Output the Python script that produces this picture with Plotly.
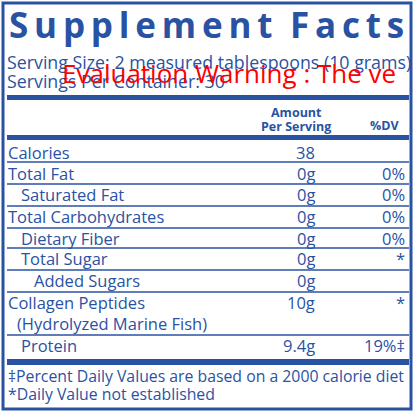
import plotly.graph_objects as go

BLUE = '#2a52a3'

# rows: label, amount, %DV, indent
labels = ['Calories', 'Total Fat', 'Saturated Fat', 'Total Carbohydrates', 'Dietary Fiber',
          'Total Sugar', 'Added Sugars', 'Collagen Peptides', '(Hydrolyzed Marine Fish)', 'Protein']
amounts = ['38', '0g', '0g', '0g', '0g', '0g', '0g', '10g', '', '9.4g']
dvs = ['', '0%', '0%', '0%', '0%', '*', '', '*', '', '19%‡']
indents = [6, 6, 19, 6, 19, 19, 32, 6, 15, 19]
row_y = [152, 173, 194, 216, 238, 258, 280, 302, 323, 345]
thin_lines = [162, 184, 206, 228, 248, 270, 292, 335]
footnotes = ['‡Percent Daily Values are based on a 2000 calorie diet', '*Daily Value not established']

FONT = 'Open Sans'
fig = go.Figure()
ann = []


def txt(x, y, s, size=16.5, anchor='left', bold=False, color=BLUE):
    ann.append(dict(x=x, y=y, text=f'<b>{s}</b>' if bold else s, showarrow=False,
                    xanchor=anchor, yanchor='middle',
                    font=dict(family=FONT, size=size, color=color)))


# title with spaced letters
title = 'Supplement Facts'
txt(206, 24, '\u2009'.join(title).replace(' \u2009', '\u2009\u2009'), size=35, anchor='center', bold=True)
txt(5, 62, 'Serving Size: 2 measured tablespoons (10 grams)', size=17.8)
txt(5, 81, 'Servings Per Container: 30', size=17.8)
txt(296, 112, 'Amount', size=12.5, anchor='center', bold=True)
txt(296, 126, 'Per Serving', size=12.5, anchor='center', bold=True)
txt(385, 125, '%DV', size=12.5, anchor='center', bold=True)

for lab, amt, dv, ind, y in zip(labels, amounts, dvs, indents, row_y):
    txt(ind, y, lab)
    if amt:
        txt(317, y, amt, anchor='right')
    if dv:
        txt(407, y, dv, anchor='right')

txt(6, 376, footnotes[0], size=15.8)
txt(6, 394, footnotes[1], size=15.8)

# evaluation watermark
txt(60, 73, 'Evaluation Warning : The ve', size=26, color='red')

shapes = [dict(type='rect', x0=3, y0=3, x1=411, y1=409, line=dict(color=BLUE, width=3))]
for y0, y1 in [(95, 100), (135, 140), (359, 365)]:
    shapes.append(dict(type='rect', x0=7, x1=409, y0=y0, y1=y1, fillcolor=BLUE, line=dict(width=0)))
for y in thin_lines:
    shapes.append(dict(type='line', x0=7, x1=409, y0=y, y1=y, line=dict(color=BLUE, width=1.5)))

fig.update_layout(
    width=416, height=412, margin=dict(l=0, r=0, t=0, b=0),
    paper_bgcolor='white', plot_bgcolor='white',
    xaxis=dict(range=[0, 416], visible=False, fixedrange=True),
    yaxis=dict(range=[412, 0], visible=False, fixedrange=True),
    annotations=ann, shapes=shapes, showlegend=False,
)
fig.write_html('out.html', config={'displayModeBar': False},
               post_script="document.body.style.margin='0';document.body.style.overflow='hidden';")
